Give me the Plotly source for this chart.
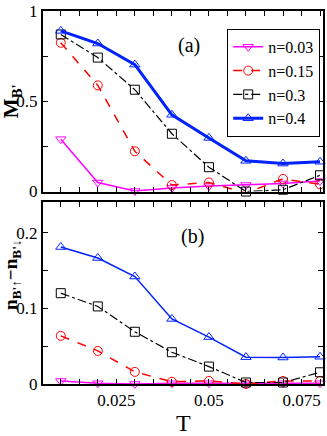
import plotly.graph_objects as go
from plotly.subplots import make_subplots

T = [0.01, 0.02, 0.03, 0.04, 0.05, 0.06, 0.07, 0.08]
labels = ["n=0.03", "n=0.15", "n=0.3", "n=0.4"]

# panel (a): M_B'
m_003 = [0.29, 0.05, 0.003, 0.02, 0.03, 0.036, 0.045, 0.058]
m_015 = [0.824, 0.588, 0.223, 0.036, 0.05, -0.008, 0.07, 0.04]
m_03 = [0.87, 0.742, 0.564, 0.32, 0.135, 0.0, 0.01, 0.09]
m_04 = [0.89, 0.82, 0.703, 0.425, 0.297, 0.17, 0.155, 0.165]

# panel (b): n_B'up - n_B'down
d_003 = [0.004, 0.001, 0.0, 0.001, 0.001, 0.001, 0.001, 0.001]
d_015 = [0.0636, 0.0437, 0.016, 0.003, 0.004, 0.0, 0.004, 0.004]
d_03 = [0.12, 0.1025, 0.069, 0.042, 0.023, 0.002, 0.002, 0.0155]
d_04 = [0.181, 0.1665, 0.142, 0.086, 0.062, 0.0355, 0.035, 0.036]

styles = [
    dict(color="#ff00ff", dash="solid", symbol="triangle-down-open", w=1.5, wb=1.5),
    dict(color="#ff0000", dash="dash", symbol="circle-open", w=1.5, wb=1.5),
    dict(color="black", dash="dashdot", symbol="square-open", w=1.2, wb=1.2),
    dict(color="#0022ff", dash="solid", symbol="triangle-up-open", w=3, wb=1.5),
]

fig = make_subplots(rows=2, cols=1, shared_xaxes=True)

for lab, ya, yb, s in zip(labels, [m_003, m_015, m_03, m_04], [d_003, d_015, d_03, d_04], styles):
    fig.add_trace(go.Scatter(x=T, y=ya, name=lab, mode="lines+markers", cliponaxis=False,
                             line=dict(color=s["color"], dash=s["dash"], width=s["w"]),
                             marker=dict(symbol=s["symbol"], size=9, color=s["color"], line=dict(width=1))),
                  row=1, col=1)
    fig.add_trace(go.Scatter(x=T, y=yb, name=lab, mode="lines+markers", showlegend=False, cliponaxis=False,
                             line=dict(color=s["color"], dash=s["dash"], width=s["wb"]),
                             marker=dict(symbol=s["symbol"], size=9, color=s["color"], line=dict(width=1))),
                  row=2, col=1)

xt = [0.01 + 0.005 * i for i in range(15)]
xtext = [("%g" % v) if abs(v / 0.025 - round(v / 0.025)) < 1e-6 else "" for v in xt]

font = "Liberation Serif"
axis_common = dict(showline=True, linecolor="black", linewidth=2, mirror="allticks",
                   ticks="inside", ticklen=5, tickcolor="black", tickwidth=1,
                   showgrid=False, zeroline=False, tickfont=dict(family=font, size=17, color="black"))

fig.update_layout(
    width=327, height=436,
    margin=dict(l=43, r=2, t=10, b=52),
    plot_bgcolor="white", paper_bgcolor="white",
    font=dict(family=font, color="black"),
    xaxis=dict(domain=[0, 1], range=[0.0052, 0.0808], tickvals=xt, ticktext=[""] * len(xt), **axis_common),
    xaxis2=dict(domain=[0, 1], range=[0.0052, 0.0808], tickvals=xt, ticktext=xtext, **axis_common),
    yaxis=dict(domain=[0.516, 1], range=[0, 1], tickvals=[0, 0.25, 0.5, 0.75, 1],
               ticktext=["0", "", "0.5", "", "1"], **axis_common),
    yaxis2=dict(domain=[0, 0.487], range=[0, 0.24], tickvals=[0, 0.05, 0.1, 0.15, 0.2],
                ticktext=["0", "", "0.1", "", "0.2"], **axis_common),
    legend=dict(x=0.99, y=0.952, xanchor="right", yanchor="top", bgcolor="white",
                bordercolor="black", borderwidth=1, font=dict(family=font, size=16),
                itemwidth=30, tracegroupgap=0),
    showlegend=True,
)

fig.add_annotation(text="(a)", x=0.0447, y=0.81, xref="x", yref="y", showarrow=False,
                   font=dict(family=font, size=20))
fig.add_annotation(text="(b)", x=0.0455, y=0.195, xref="x2", yref="y2", showarrow=False,
                   font=dict(family=font, size=20))
fig.add_annotation(text="T", x=0.5, y=-0.104, xref="paper", yref="paper", showarrow=False,
                   font=dict(family=font, size=24), xanchor="center", yanchor="middle")
fig.add_annotation(text="<b>M</b><sub><b>B'</b></sub>", x=-0.111, y=0.5, xref="paper", yref="y domain",
                   xanchor="center", yanchor="middle",
                   showarrow=False, textangle=-90, font=dict(family=font, size=21))
fig.add_annotation(text="<b>n</b><sub><b>B'↑</b></sub><b>−n</b><sub><b>B'↓</b></sub>", x=-0.111, y=0.6,
                   xref="paper", yref="y2 domain", xanchor="center", yanchor="middle",
                   showarrow=False, textangle=-90, font=dict(family=font, size=19))

# drop the default body margin so the 327x436 figure fills the window
fig.write_html("out.html", config={"displayModeBar": False},
               post_script="document.body.style.margin='0';")
